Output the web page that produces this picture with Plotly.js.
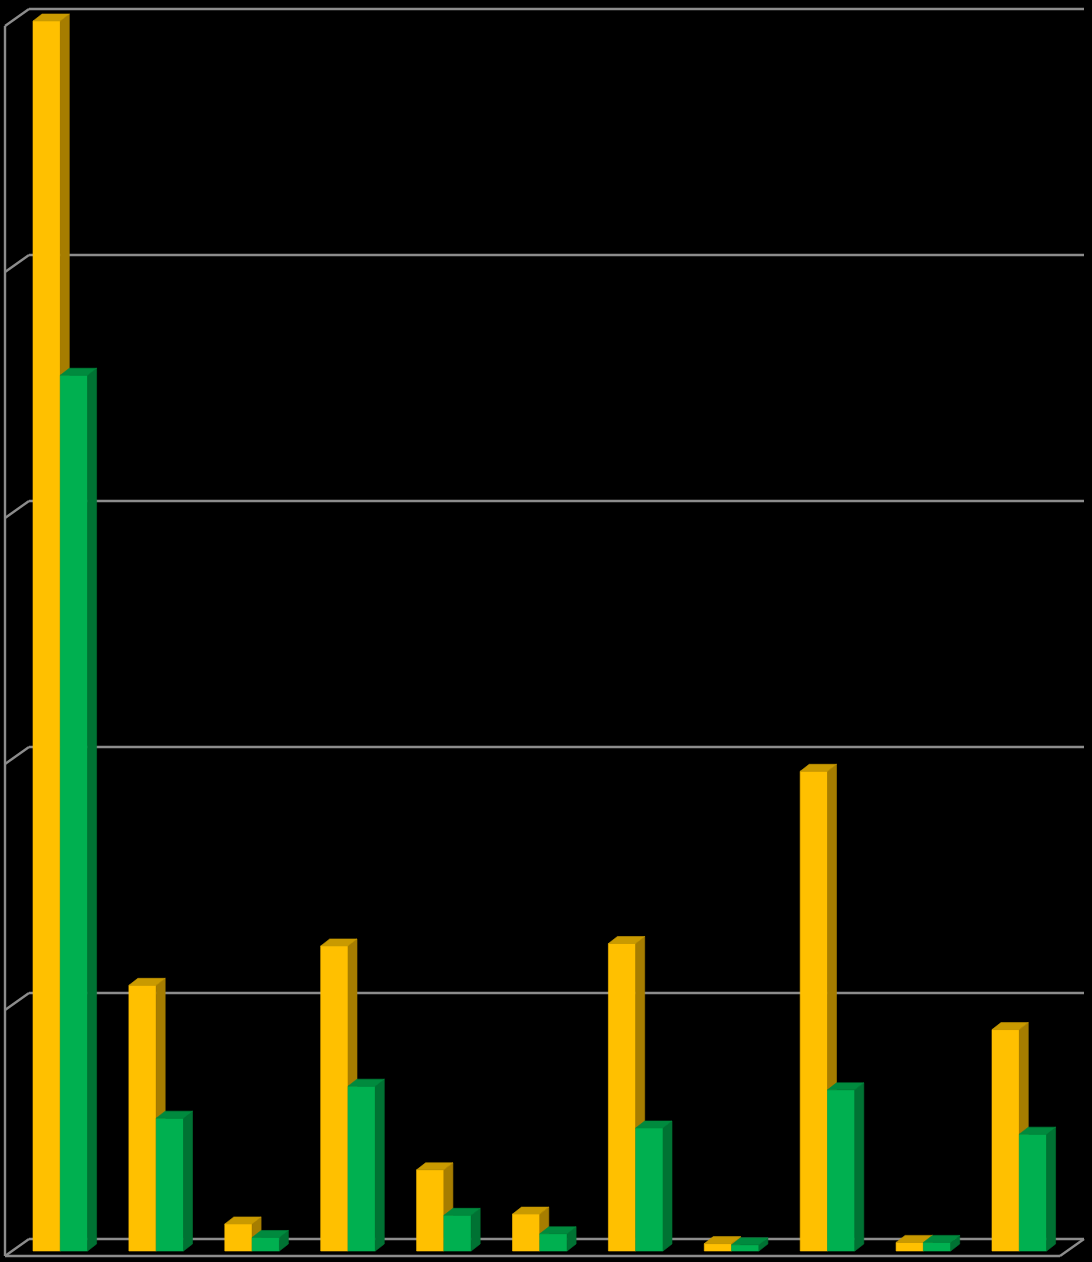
<!DOCTYPE html>
<html>
<head>
<meta charset="utf-8">
<script src="https://cdn.plot.ly/plotly-3.0.1.min.js"></script>
<style>
  html, body { margin: 0; padding: 0; background: #000; }
  #chart { width: 1092px; height: 1262px; }
</style>
</head>
<body>
<div id="chart"></div>
<script>
// Eleven groups, two series each
const categories = ['1', '2', '3', '4', '5', '6', '7', '8', '9', '10', '11'];
const seriesYellow = [50.0, 10.8, 1.1, 12.4, 3.3, 1.5, 12.5, 0.3, 19.5, 0.35, 9.0];
const seriesGreen  = [35.6, 5.4, 0.55, 6.7, 1.45, 0.7, 5.0, 0.25, 6.55, 0.35, 4.75];
const gridTicks = [0, 10, 20, 30, 40, 50];

// Pixel geometry of the 3D frame
const W = 1092, H = 1262;
const groupPx = 95.9;          // distance between group centres
const firstCenterPx = 60.3;    // centre of the first group
const basePx = 1251;           // floor line of the bar plane
const pxPerUnit = 24.6;        // vertical pixels per value unit
const barPx = 27.3;            // width of one bar face

const xr0 = -firstCenterPx / groupPx;
const xr1 = (W - firstCenterPx) / groupPx;
const yr0 = -(H - basePx) / pxPerUnit;
const yr1 = basePx / pxPerUnit;

const ux = px => px / groupPx;     // horizontal px -> x units
const uy = px => px / pxPerUnit;   // vertical px -> y units

const barW = ux(barPx);
const depthX = ux(9), depthY = uy(7);          // bar depth
const backX = ux(17), backY = uy(12);          // back wall relative to bar plane
const frontX = ux(-7), frontY = uy(-5);        // front edge relative to bar plane
const wallL = ux(12 - firstCenterPx);
const wallR = ux(1067 - firstCenterPx);

function faces(values, offset) {
  const front = {x: [], y: []}, side = {x: [], y: []}, top = {x: [], y: []};
  values.forEach((v, i) => {
    const xl = i + offset, xr = xl + barW;
    front.x.push(xl, xr, xr, xl, xl, null);
    front.y.push(0, 0, v, v, 0, null);
    side.x.push(xr, xr + depthX, xr + depthX, xr, xr, null);
    side.y.push(0, depthY, v + depthY, v, 0, null);
    top.x.push(xl, xr, xr + depthX, xl + depthX, xl, null);
    top.y.push(v, v, v + depthY, v + depthY, v, null);
  });
  return {front, side, top};
}

function poly(p, color) {
  return {
    type: 'scatter', mode: 'lines', x: p.x, y: p.y,
    fill: 'toself', fillcolor: color,
    line: {color: color, width: 0.6},
    hoverinfo: 'skip', showlegend: false
  };
}

const fy = faces(seriesYellow, -barW);
const fg = faces(seriesGreen, 0);

const traces = [
  poly(fy.front, '#FFC000'),
  poly(fy.side, '#A67D00'),
  poly(fy.top, '#C99A00'),
  poly(fg.front, '#00B050'),
  poly(fg.side, '#007233'),
  poly(fg.top, '#008A3E')
];

// Walls: back gridlines, left diagonals, front edge and floor
const lineStyle = {color: '#8C8C8C', width: 2.4};
const shapes = [];
gridTicks.forEach(t => {
  shapes.push({type: 'line', layer: 'below', xref: 'x', yref: 'y',
    x0: wallL + backX, y0: t + backY, x1: wallR + backX, y1: t + backY, line: lineStyle});
  shapes.push({type: 'line', layer: 'below', xref: 'x', yref: 'y',
    x0: wallL + backX, y0: t + backY, x1: wallL + frontX, y1: t + frontY, line: lineStyle});
});
const topTick = gridTicks[gridTicks.length - 1];
shapes.push({type: 'line', layer: 'below', xref: 'x', yref: 'y',
  x0: wallL + frontX, y0: topTick + frontY, x1: wallL + frontX, y1: frontY, line: lineStyle});
shapes.push({type: 'line', layer: 'below', xref: 'x', yref: 'y',
  x0: wallL + frontX, y0: frontY, x1: wallR + frontX, y1: frontY, line: lineStyle});
shapes.push({type: 'line', layer: 'below', xref: 'x', yref: 'y',
  x0: wallR + backX, y0: backY, x1: wallR + frontX, y1: frontY, line: lineStyle});

const layout = {
  width: W, height: H,
  margin: {l: 0, r: 0, t: 0, b: 0, pad: 0},
  paper_bgcolor: '#000000',
  plot_bgcolor: '#000000',
  xaxis: {range: [xr0, xr1], visible: false, showgrid: false, zeroline: false, fixedrange: true},
  yaxis: {range: [yr0, yr1], visible: false, showgrid: false, zeroline: false, fixedrange: true},
  shapes: shapes,
  showlegend: false
};

Plotly.newPlot('chart', traces, layout, {displayModeBar: false, staticPlot: true});
</script>
</body>
</html>
